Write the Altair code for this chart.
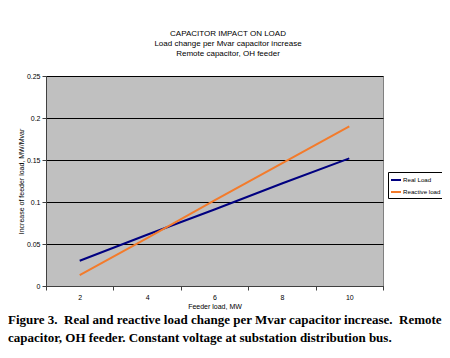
import altair as alt
import pandas as pd

feeder_load = ["2", "4", "6", "8", "10"]
real_load = [0.030, 0.061, 0.091, 0.122, 0.152]
reactive_load = [0.013, 0.057, 0.102, 0.146, 0.190]
series_names = ["Real Load", "Reactive load"]
series_colors = ["#000080", "#F37B2B"]
y_ticks = [0, 0.05, 0.1, 0.15, 0.2, 0.25]

title_lines = ["CAPACITOR IMPACT ON LOAD",
               "Load change per Mvar capacitor increase",
               "Remote capacitor, OH feeder"]
caption_lines = ["Figure 3.\u00a0 Real and reactive load change per Mvar capacitor increase.\u00a0 Remote",
                 "capacitor, OH feeder. Constant voltage at substation distribution bus."]

rows = []
for name, vals in zip(series_names, [real_load, reactive_load]):
    for x, v in zip(feeder_load, vals):
        rows.append({"load": x, "value": v, "series": name})
df = pd.DataFrame(rows)

W, H = 337, 210
FONT = "Liberation Sans"

lines = alt.Chart(df).mark_line(strokeWidth=2, clip=False).encode(
    x=alt.X("load:O", sort=feeder_load,
            scale=alt.Scale(type="band", paddingInner=0, paddingOuter=0),
            axis=alt.Axis(title="Feeder load, MW", labelAngle=0, tickBand="extent",
                          labelFontSize=7, titleFontSize=7, titleFontWeight="normal",
                          labelFont=FONT, titleFont=FONT, labelColor="black", titleColor="black",
                          tickSize=4, tickColor="#404040", domainColor="#404040",
                          labelPadding=3, titlePadding=2)),
    y=alt.Y("value:Q", scale=alt.Scale(domain=[0, 0.25], nice=False),
            axis=alt.Axis(title="Increase of feeder load, MW/Mvar", values=y_ticks,
                          labelExpr="toString(datum.value)",
                          grid=True, gridColor="black", gridWidth=1, gridOpacity=1,
                          labelFontSize=7, titleFontSize=7, titleFontWeight="normal",
                          labelFont=FONT, titleFont=FONT, labelColor="black", titleColor="black",
                          tickSize=4, tickColor="#404040", domainColor="#404040",
                          labelPadding=2, titlePadding=2)),
    color=alt.Color("series:N", sort=series_names,
                    scale=alt.Scale(domain=series_names, range=series_colors),
                    legend=alt.Legend(title=None, orient="none", legendX=342, legendY=96,
                                      symbolType="stroke", symbolStrokeWidth=2, symbolSize=100,
                                      labelFontSize=6.2, labelFont=FONT, labelColor="black",
                                      strokeColor="black", padding=2, rowPadding=2,
                                      fillColor="white", labelOffset=1)),
)

title_layers = [
    alt.Chart(pd.DataFrame({"t": [t]})).mark_text(fontSize=8, font=FONT, color="black",
                                                  align="center", baseline="middle").encode(
        text="t:N", x=alt.value(182), y=alt.value(-42 + 10 * i))
    for i, t in enumerate(title_lines)
]
caption_layers = [
    alt.Chart(pd.DataFrame({"t": [t]})).mark_text(fontSize=13, font="Liberation Serif",
                                                  fontWeight="bold", color="black",
                                                  align="left", baseline="middle").encode(
        text="t:N", x=alt.value(-38), y=alt.value(244 + 18 * i))
    for i, t in enumerate(caption_lines)
]

chart = alt.layer(lines, *title_layers, *caption_layers).properties(
    width=W, height=H,
    padding={"left": 38, "top": 68, "right": 59, "bottom": 64},
    autosize=alt.AutoSizeParams(type="none"),
    background="white",
).configure_view(fill="#C0C0C0", stroke="#808080", strokeWidth=1)

chart.save("out.html", embed_options={"renderer": "svg", "actions": False})
